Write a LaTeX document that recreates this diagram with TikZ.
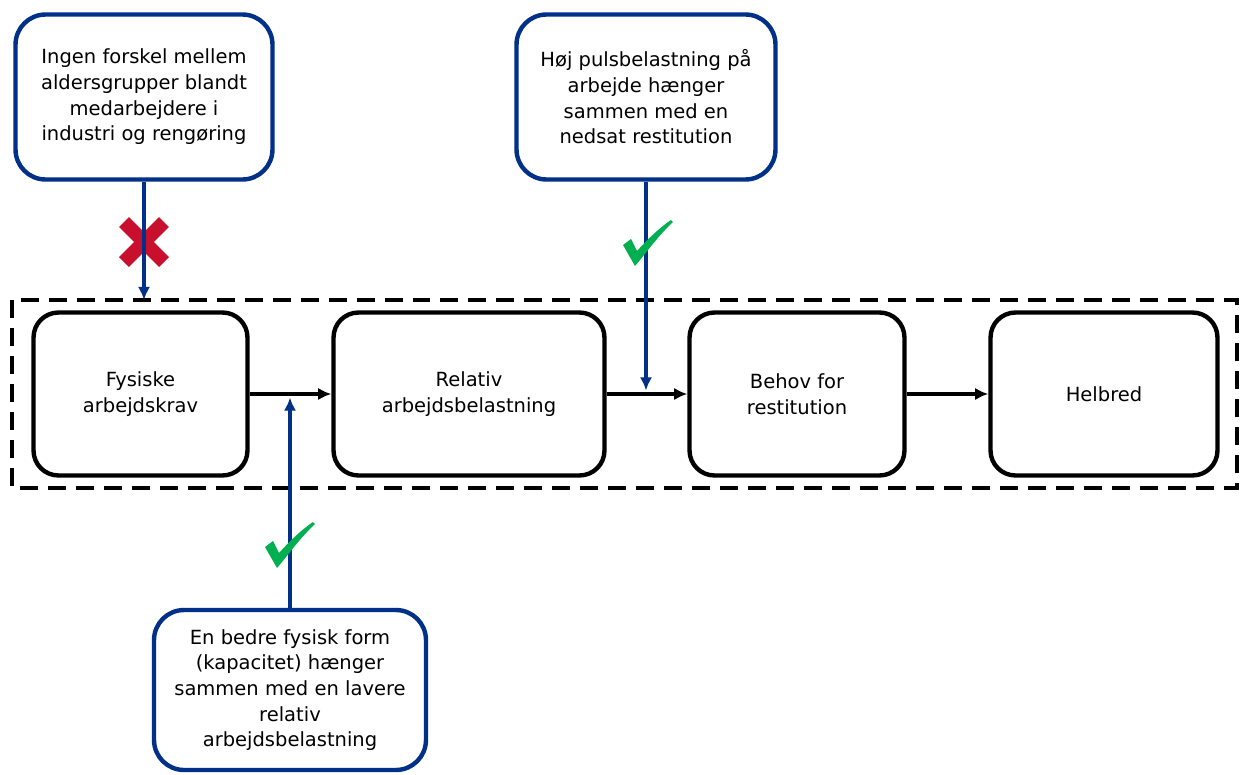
\documentclass[tikz,border=0pt]{standalone}
\usepackage{fontspec}
\setmainfont{DejaVu Sans}
\usetikzlibrary{positioning,arrows.meta}
\definecolor{blaa}{RGB}{0,48,135}
\definecolor{roed}{RGB}{200,16,46}
\definecolor{groen}{RGB}{0,176,80}

\begin{document}
\begin{tikzpicture}[>={Latex[length=7.5pt,width=7pt]}, x=0.02cm, y=-0.02cm,
        tekst/.style={align=center, font=\fontsize{11.1}{14.6}\selectfont},
        blok/.style={tekst, draw, line width=2.5pt, rounded corners=0.5cm, minimum height=3.26cm},
        fund/.style={tekst, draw=blaa, line width=2.5pt, rounded corners=0.6cm},
        pil/.style={->, line width=2.2pt},
        blaapil/.style={->, line width=2.2pt, blaa},
        flueben/.pic={\fill[groen, x=1cm, y=1cm] (-0.48,-0.06) -- (-0.32,0.06) -- (-0.2,-0.18)
            .. controls (0.05,0.1) and (0.3,0.32) .. (0.48,0.44) -- (0.52,0.4)
            .. controls (0.2,0.1) and (0,-0.2) .. (-0.24,-0.48) -- cycle;}]
        \useasboundingbox (0,0) rectangle (1240,774);

        \draw[line width=2.4pt, dash pattern=on 0.36cm off 0.2cm] (12,300) rectangle (1237,488); % ramme

        \node[blok, minimum width=4.28cm] (fys) at (140.5,394) {Fysiske\\arbejdskrav};
        \node[blok, minimum width=5.42cm] (rel) at (469,394) {Relativ\\arbejdsbelastning};
        \node[blok, minimum width=4.3cm] (beh) at (797,394) {Behov for\\restitution};
        \node[blok, minimum width=4.54cm] (hel) at (1104,394) {Helbred};

        \node[fund, minimum width=5.14cm, minimum height=3.3cm] (alder) at (144,97)
            {Ingen forskel mellem\\aldersgrupper blandt\\medarbejdere i\\industri og rengøring};
        \node[fund, minimum width=5.18cm, minimum height=3.3cm] (puls) at (646,97)
            {Høj pulsbelastning på\\arbejde hænger\\sammen med en\\nedsat restitution};
        \node[fund, minimum width=5.44cm, minimum height=3.2cm] (form) at (290,690)
            {En bedre fysisk form\\(kapacitet) hænger\\sammen med en lavere\\relativ\\arbejdsbelastning};

        \coordinate (rtop) at (144,300); % top af ramme

        \draw [pil] (fys) -- (rel);
        \draw [pil] (rel) -- (beh);
        \draw [pil] (beh) -- (hel);

        \draw[roed, line width=0.28cm] (124,222) -- (164,262) (124,262) -- (164,222); % kryds
        \draw [blaapil] (alder.south) -- (rtop);
        \draw [blaapil, shorten >=2pt] (puls.south) -- (puls.south |- rel.east);
        \draw [blaapil, shorten >=2pt] (form.north) -- (form.north |- fys.east);

        \pic at (647,242) {flueben}; % ok 1
        \pic at (289,544) {flueben}; % ok 2
    \end{tikzpicture}
\end{document}
